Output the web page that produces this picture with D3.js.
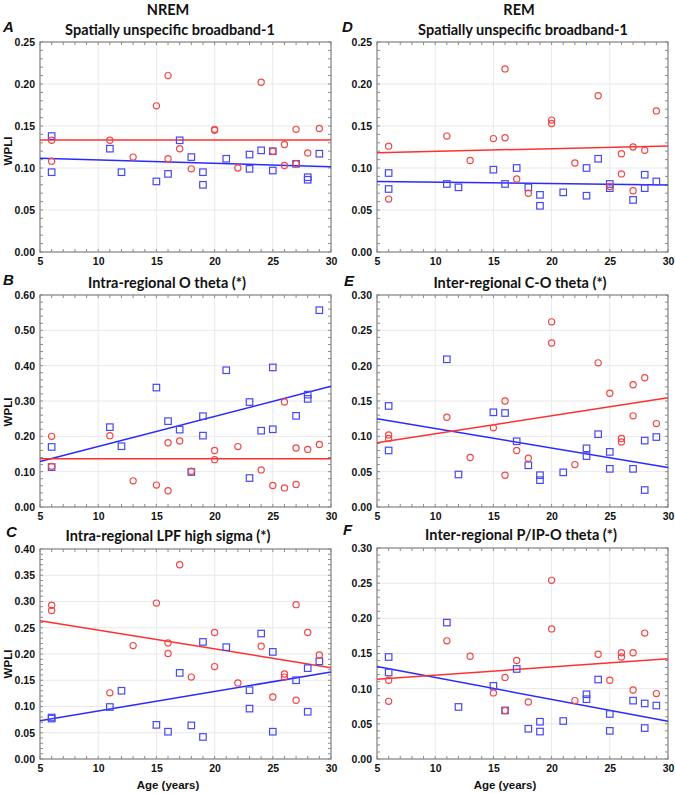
<!DOCTYPE html>
<html><head><meta charset="utf-8">
<script src="https://cdn.jsdelivr.net/npm/d3@7"></script>
<style>
html,body{margin:0;padding:0;background:#fff;}
svg{display:block;}
</style>
</head><body>
<svg id="chart" width="675" height="793"></svg>
<script>
// ---------- DATA ----------
const ageBlue = [6,6,11,12,15,16,17,18,19,19,21,23,23,24,25,25,27,28,28,29];
const ageRed  = [6,6,11,13,15,16,16,17,18,20,20,22,24,25,26,26,27,27,28,29];
const fitAges = [5, 30];

const columnHeaders = ["NREM", "REM"];
const panelLetters = ["A", "B", "C", "D", "E", "F"];
const panelTitles = [
  "Spatially unspecific broadband-1",
  "Intra-regional O theta (*)",
  "Intra-regional LPF high sigma (*)",
  "Spatially unspecific broadband-1",
  "Inter-regional C-O theta (*)",
  "Inter-regional P/IP-O theta (*)"
];
const yMaxes = [0.25, 0.60, 0.40, 0.25, 0.30, 0.30];
const yTickSteps = [0.05, 0.10, 0.05, 0.05, 0.05, 0.05];
const xTicks = [5, 10, 15, 20, 25, 30];
const yLabel = "WPLI";
const xLabel = "Age (years)";

// A: NREM broadband
const aBlue = [0.138,0.095,0.123,0.095,0.084,0.093,0.133,0.113,0.095,0.080,0.111,0.116,0.099,0.121,0.120,0.097,0.105,0.089,0.086,0.117];
const aRed  = [0.133,0.108,0.133,0.113,0.174,0.210,0.111,0.123,0.099,0.146,0.145,0.100,0.202,0.120,0.128,0.103,0.146,0.105,0.118,0.147];
const aFitBlue = [0.1115, 0.1015];
const aFitRed  = [0.1333, 0.1333];
// B: NREM intra-regional O theta
const bBlue = [0.170,0.113,0.226,0.172,0.338,0.243,0.219,0.099,0.257,0.202,0.387,0.297,0.082,0.216,0.395,0.220,0.258,0.318,0.306,0.557];
const bRed  = [0.200,0.115,0.202,0.074,0.062,0.046,0.182,0.187,0.101,0.160,0.134,0.171,0.105,0.061,0.297,0.054,0.167,0.064,0.163,0.177];
const bFitBlue = [0.1287, 0.3416];
const bFitRed  = [0.1363, 0.1363];
// C: NREM intra-regional LPF high sigma
const cBlue = [0.079,0.077,0.099,0.130,0.065,0.052,0.164,0.064,0.223,0.042,0.213,0.131,0.096,0.239,0.204,0.052,0.150,0.173,0.090,0.186];
const cRed  = [0.293,0.283,0.126,0.216,0.297,0.221,0.201,0.370,0.156,0.241,0.176,0.145,0.215,0.118,0.162,0.156,0.294,0.112,0.241,0.198];
const cFitBlue = [0.073, 0.1657];
const cFitRed  = [0.2635, 0.174];
// D: REM broadband
const dBlue = [0.094,0.075,0.081,0.077,0.098,0.081,0.100,0.077,0.068,0.055,0.071,0.100,0.067,0.111,0.081,0.076,0.062,0.092,0.076,0.084];
const dRed  = [0.126,0.063,0.138,0.109,0.135,0.218,0.136,0.087,0.070,0.157,0.153,0.106,0.186,0.078,0.117,0.093,0.125,0.073,0.121,0.168];
const dFitBlue = [0.0839, 0.0799];
const dFitRed  = [0.1183, 0.1262];
// E: REM inter-regional C-O theta
const eBlue = [0.143,0.080,0.209,0.046,0.134,0.133,0.093,0.059,0.045,0.038,0.049,0.083,0.072,0.103,0.078,0.054,0.054,0.094,0.024,0.099];
const eRed  = [0.102,0.097,0.127,0.070,0.112,0.150,0.045,0.080,0.069,0.262,0.232,0.060,0.204,0.161,0.097,0.092,0.173,0.129,0.183,0.118];
const eFitBlue = [0.1249, 0.0558];
const eFitRed  = [0.0909, 0.1547];
// F: REM inter-regional P/IP-O theta
const fBlue = [0.145,0.123,0.194,0.074,0.104,0.069,0.128,0.043,0.053,0.039,0.054,0.092,0.085,0.113,0.064,0.040,0.083,0.079,0.044,0.076];
const fRed  = [0.112,0.082,0.168,0.146,0.094,0.116,0.069,0.140,0.081,0.254,0.185,0.083,0.149,0.112,0.151,0.145,0.151,0.098,0.179,0.093];
const fFitBlue = [0.1315, 0.0536];
const fFitRed  = [0.1134, 0.1424];

const blueVals = [aBlue, bBlue, cBlue, dBlue, eBlue, fBlue];
const redVals  = [aRed, bRed, cRed, dRed, eRed, fRed];
const blueFits = [aFitBlue, bFitBlue, cFitBlue, dFitBlue, eFitBlue, fFitBlue];
const redFits  = [aFitRed, bFitRed, cFitRed, dFitRed, eFitRed, fFitRed];

// ---------- LAYOUT ----------
const layout = [
  {l:40,  r:331, t:42,  b:252, titleX:170, titleY:35,  letX:3,   letY:32,  wpliY:151, ageX:null},
  {l:40,  r:331, t:295, b:507, titleX:167, titleY:288, letX:3,   letY:285, wpliY:412, ageX:null},
  {l:40,  r:331, t:549, b:759, titleX:168, titleY:541, letX:6,   letY:537, wpliY:664, ageX:168},
  {l:377, r:668, t:42,  b:252, titleX:523, titleY:35,  letX:342, letY:32,  wpliY:null, ageX:null},
  {l:377, r:668, t:295, b:507, titleX:520, titleY:288, letX:344, letY:286, wpliY:null, ageX:null},
  {l:377, r:668, t:548, b:759, titleX:521, titleY:540, letX:343, letY:535, wpliY:null, ageX:505}
];
const headerPos = [{x:168, y:15}, {x:519, y:15}];

const BLUE = "#2a2aff", RED = "#ff3030";
const BLUE_PT = "#4848f0", RED_PT = "#f04848";
const ARIAL = "'Liberation Sans', Arial, Helvetica, sans-serif";
const TITLEF = "Lato, 'Open Sans', sans-serif";

function styleText(sel, family, size, italic) {
  sel.style("font-family", family).style("font-size", size).style("font-weight", "bold")
     .style("font-style", italic ? "italic" : "normal").style("fill", "#111");
  return sel;
}

const svg = d3.select("#chart");

columnHeaders.forEach((h, i) => {
  styleText(svg.append("text").attr("x", headerPos[i].x).attr("y", headerPos[i].y)
    .attr("text-anchor", "middle").text(h), TITLEF, "14.5px");
});

layout.forEach((L, i) => {
  const x = d3.scaleLinear().domain([5, 30]).range([L.l, L.r]);
  const y = d3.scaleLinear().domain([0, yMaxes[i]]).range([L.b, L.t]);
  const g = svg.append("g");
  const step = yTickSteps[i];
  const yTicks = d3.range(0, yMaxes[i] + step / 2, step).map(v => +v.toFixed(2));
  const yMinor = d3.range(0, yMaxes[i] + step / 10, step / 5).map(v => +v.toFixed(3));
  const xMinor = d3.range(5, 31, 1);

  // grid
  g.selectAll(".gx").data(xTicks.slice(1, -1)).enter().append("line")
    .attr("x1", d => x(d)).attr("x2", d => x(d)).attr("y1", L.t).attr("y2", L.b)
    .attr("stroke", "#e9e9e9").attr("stroke-width", 1);
  g.selectAll(".gy").data(yTicks.slice(1, -1)).enter().append("line")
    .attr("y1", d => y(d)).attr("y2", d => y(d)).attr("x1", L.l).attr("x2", L.r)
    .attr("stroke", "#e9e9e9").attr("stroke-width", 1);

  // minor ticks (inward on all sides)
  const tk = "#8a8a8a";
  xMinor.forEach(v => {
    g.append("line").attr("x1", x(v)).attr("x2", x(v)).attr("y1", L.b).attr("y2", L.b - 3).attr("stroke", tk);
    g.append("line").attr("x1", x(v)).attr("x2", x(v)).attr("y1", L.t).attr("y2", L.t + 3).attr("stroke", tk);
  });
  yMinor.forEach(v => {
    g.append("line").attr("y1", y(v)).attr("y2", y(v)).attr("x1", L.l).attr("x2", L.l + 3).attr("stroke", tk);
    g.append("line").attr("y1", y(v)).attr("y2", y(v)).attr("x1", L.r).attr("x2", L.r - 3).attr("stroke", tk);
  });

  // tick labels via d3 axes (no domain/tick lines)
  const ax = g.append("g").attr("transform", `translate(0,${L.b})`)
    .call(d3.axisBottom(x).tickValues(xTicks).tickSize(0).tickPadding(6).tickFormat(d3.format("d")));
  const ay = g.append("g").attr("transform", `translate(${L.l},0)`)
    .call(d3.axisLeft(y).tickValues(yTicks).tickSize(0).tickPadding(5).tickFormat(d3.format(".2f")));
  [ax, ay].forEach(a => {
    a.select(".domain").remove();
    a.attr("font-family", null).attr("font-size", null);
    styleText(a.selectAll("text"), ARIAL, "10.5px");
  });

  // frame
  g.append("rect").attr("x", L.l).attr("y", L.t).attr("width", L.r - L.l).attr("height", L.b - L.t)
    .attr("fill", "none").attr("stroke", "#8a8a8a").attr("stroke-width", 1.3);

  // fit lines
  const line = d3.line().x(d => x(d[0])).y(d => y(d[1]));
  g.append("path").datum(fitAges.map((a, k) => [a, blueFits[i][k]])).attr("d", line)
    .attr("stroke", BLUE).attr("stroke-width", 1.5).attr("fill", "none");
  g.append("path").datum(fitAges.map((a, k) => [a, redFits[i][k]])).attr("d", line)
    .attr("stroke", RED).attr("stroke-width", 1.5).attr("fill", "none");

  // points
  const s = 6.5;
  g.selectAll(".sq").data(ageBlue.map((a, k) => [a, blueVals[i][k]])).enter().append("rect")
    .attr("x", d => x(d[0]) - s / 2).attr("y", d => y(d[1]) - s / 2).attr("width", s).attr("height", s)
    .attr("fill", "none").attr("stroke", BLUE_PT).attr("stroke-width", 1.2);
  g.selectAll(".ci").data(ageRed.map((a, k) => [a, redVals[i][k]])).enter().append("circle")
    .attr("cx", d => x(d[0])).attr("cy", d => y(d[1])).attr("r", 3.1)
    .attr("fill", "none").attr("stroke", RED_PT).attr("stroke-width", 1.2);

  // titles
  styleText(svg.append("text").attr("x", L.titleX).attr("y", L.titleY)
    .attr("text-anchor", "middle").text(panelTitles[i]), TITLEF, "14.5px");
  styleText(svg.append("text").attr("x", L.letX).attr("y", L.letY).text(panelLetters[i]), ARIAL, "15px", true);
  if (L.wpliY !== null) {
    styleText(svg.append("text").attr("transform", `translate(12,${L.wpliY}) rotate(-90)`)
      .attr("text-anchor", "middle").text(yLabel), ARIAL, "11.5px");
  }
  if (L.ageX !== null) {
    styleText(svg.append("text").attr("x", L.ageX).attr("y", 789)
      .attr("text-anchor", "middle").text(xLabel), ARIAL, "11.5px");
  }
});
</script>
</body></html>
